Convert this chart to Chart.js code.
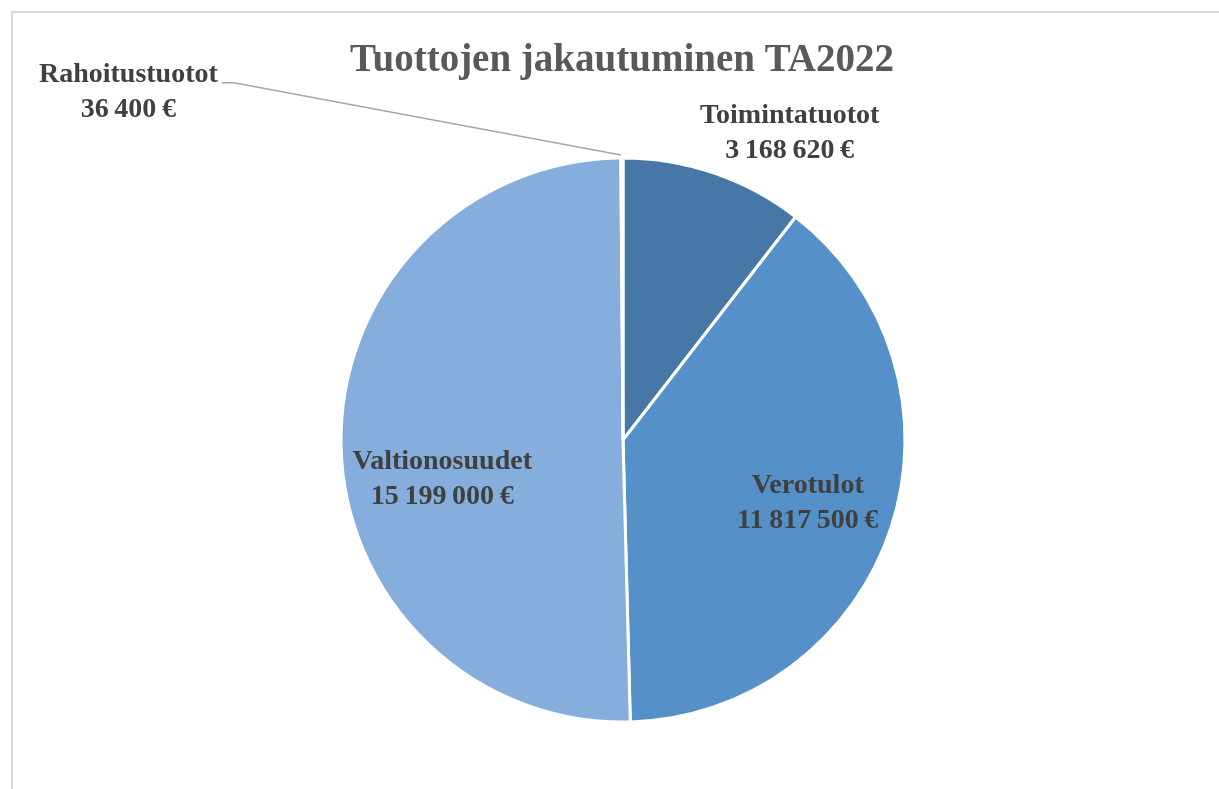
<!DOCTYPE html>
<html lang="fi">
<head>
  <meta charset="UTF-8">
  <title>Tuottojen jakautuminen TA2022</title>
  <script src="https://cdn.jsdelivr.net/npm/chart.js"></script>
  <style>
    html, body { margin: 0; padding: 0; background: #fff; }
    #wrap { width: 1219px; height: 789px; }
  </style>
</head>
<body>
<div id="wrap"><canvas id="pie" width="1219" height="789"></canvas></div>
<script>
// data
const titleText = 'Tuottojen jakautuminen TA2022';
const categories = ['Toimintatuotot', 'Verotulot', 'Valtionosuudet', 'Rahoitustuotot'];
const values = [3168620, 11817500, 15199000, 36400];
const colors = ['#4677a7', '#5591c8', '#85aedc', '#a9c4e6'];

// label block centres, in units of the pie radius from the pie centre
const labelOffsets = [[0.591, -1.096], [0.655, 0.214], [-0.641, 0.132], [-1.754, -1.242]];
const hasLeader = [false, false, false, true];

// thin spaces, like the narrow gaps in the original
const fmt = v => String(v).replace(/\B(?=(\d{3})+(?!\d))/g, '\u2009') + '\u2009€';
const labelFont = 'bold 28px "Liberation Serif", serif';

const decor = {
  id: 'decor',
  beforeDraw(chart) {
    const ctx = chart.ctx;
    ctx.save();
    ctx.fillStyle = '#fff';
    ctx.fillRect(0, 0, chart.width, chart.height);
    // outer frame, only the top and left edges are visible
    ctx.strokeStyle = '#d9d9d9';
    ctx.lineWidth = 2;
    ctx.strokeRect(12, 12, chart.width + 20, chart.height + 20);
    ctx.restore();
  },
  afterDraw(chart) {
    const ctx = chart.ctx;
    const meta = chart.getDatasetMeta(0);
    ctx.save();
    ctx.fillStyle = '#595959';
    ctx.font = 'bold 39px "Liberation Serif", serif';
    ctx.textAlign = 'center';
    ctx.textBaseline = 'middle';
    ctx.fillText(titleText, 622, 61);

    ctx.font = labelFont;
    ctx.fillStyle = '#404040';
    meta.data.forEach((arc, i) => {
      const r = arc.outerRadius;
      const cx = arc.x + labelOffsets[i][0] * r;
      const cy = arc.y + labelOffsets[i][1] * r;
      const y1 = cy - 15, y2 = cy + 20;
      if (hasLeader[i]) {
        const w = ctx.measureText(categories[i]).width;
        const mid = (arc.startAngle + arc.endAngle) / 2;
        const ex = arc.x + Math.cos(mid) * r;
        const ey = arc.y + Math.sin(mid) * r;
        const sx = cx + w / 2 + 4;
        ctx.strokeStyle = '#a6a6a6';
        ctx.lineWidth = 1.5;
        ctx.beginPath();
        ctx.moveTo(sx, y1 + 8);
        ctx.lineTo(sx + 12, y1 + 8);
        ctx.lineTo(ex - 1, ey - 3);
        ctx.stroke();
      }
      ctx.fillText(categories[i], cx, y1);
      ctx.fillText(fmt(values[i]), cx, y2);
    });
    ctx.restore();
  }
};

new Chart(document.getElementById('pie'), {
  type: 'pie',
  data: {
    labels: categories,
    datasets: [{
      data: values,
      backgroundColor: colors,
      borderColor: '#ffffff',
      borderWidth: 3,
      radius: 282
    }]
  },
  options: {
    responsive: false,
    animation: false,
    layout: { padding: { left: 342, right: 315, top: 159, bottom: 68 } },
    plugins: {
      legend: { display: false },
      title: { display: false },
      tooltip: { enabled: false }
    }
  },
  plugins: [decor]
});
</script>
</body>
</html>
